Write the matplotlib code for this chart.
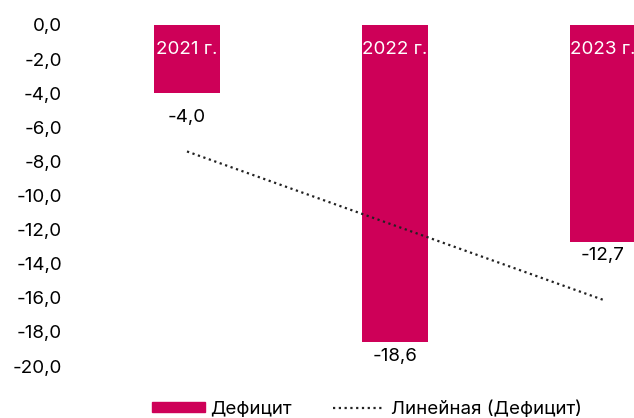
import numpy as np
import matplotlib
matplotlib.use("Agg")
import matplotlib.pyplot as plt
from matplotlib.patches import Patch
from matplotlib.lines import Line2D

plt.rcParams['font.family'] = ['Inter', 'DejaVu Sans']

years = ["2021 г.", "2022 г.", "2023 г."]
deficit = [-4.0, -18.6, -12.7]
label_offsets = [-24, -14, -14]  # px below bar end

BAR_COLOR = "#CE0058"
FS = 13.5

fig = plt.figure(figsize=(6.34, 4.18), dpi=100)
ax = fig.add_axes([83 / 634, 52 / 418, 1 - 83 / 634, 341 / 418])

x = np.arange(len(years))
ax.bar(x, deficit, width=0.317, color=BAR_COLOR, zorder=2)

# linear trend
k, b = np.polyfit(x, deficit, 1)
ax.plot(x, k * x + b, color="#222222", lw=1.6, ls=(0, (1, 1.6)), zorder=3)

for xi, name, val, off in zip(x, years, deficit, label_offsets):
    ax.text(xi, -1.45, name, color="white", ha="center", va="center", fontsize=FS, zorder=4)
    ax.annotate(f"{val:.1f}".replace(".", ","), (xi, val), xytext=(0, off),
                textcoords="offset pixels", ha="center", va="center", fontsize=FS)

ax.set_ylim(-20, 0)
ax.set_xlim(-0.5, 2.149)
ax.set_yticks(np.arange(0, -21, -2))
ax.set_yticklabels([f"{v:.1f}".replace(".", ",") for v in np.arange(0, -21, -2)], fontsize=FS)
ax.tick_params(axis="y", length=0, pad=15)
ax.set_xticks([])
for s in ax.spines.values():
    s.set_visible(False)

handles = [Patch(color=BAR_COLOR, label="Дефицит"),
           Line2D([0], [0], color="#222222", lw=1.6, ls=(0, (1, 1.6)), label="Линейная (Дефицит)")]
fig.legend(handles=handles, loc="center", bbox_to_anchor=(367 / 634, 1 - 409 / 418), ncol=2,
           frameon=False, fontsize=FS, handlelength=2.8, handleheight=0.5, columnspacing=2.2,
           handletextpad=0.3)

fig.savefig("out.png", dpi=100)
